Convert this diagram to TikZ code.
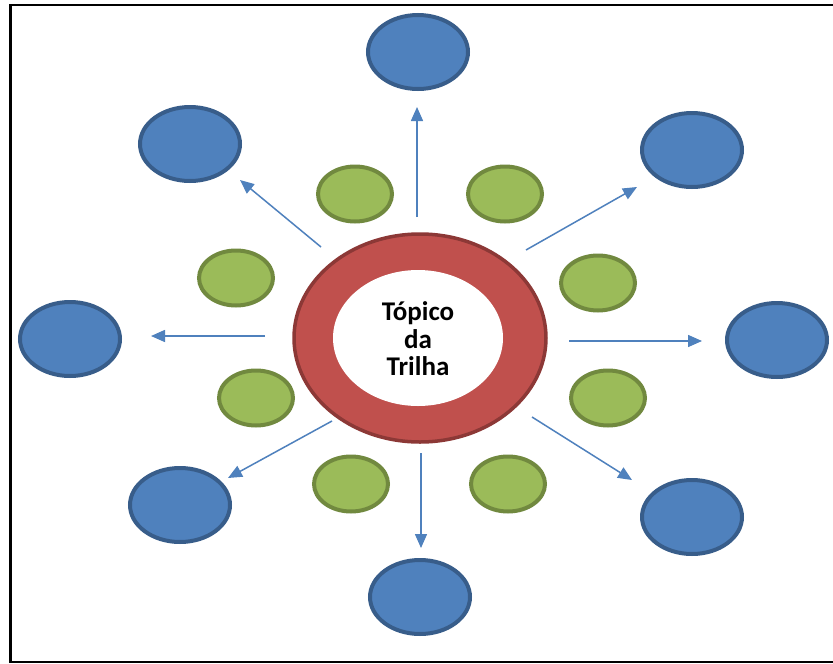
\documentclass[tikz,border=0pt]{standalone}
\usepackage{fontspec}
\setmainfont{Carlito}
\usetikzlibrary{arrows.meta,shapes.geometric}
\definecolor{bluefill}{HTML}{4F81BD}
\definecolor{blueedge}{HTML}{385D8A}
\definecolor{greenfill}{HTML}{9BBB59}
\definecolor{greenedge}{HTML}{71893F}
\definecolor{redfill}{HTML}{C0504D}
\definecolor{rededge}{HTML}{8C3836}
\tikzset{
  outer/.style={ellipse, draw=blueedge, fill=bluefill, line width=4pt,
    minimum width=100pt, minimum height=74pt, inner sep=0pt},
  inner/.style={ellipse, draw=greenedge, fill=greenfill, line width=4pt,
    minimum width=74pt, minimum height=55pt, inner sep=0pt},
  link/.style={draw=bluefill, line width=1.5pt,
    -{Triangle[length=14pt,width=12pt]}},
}
\begin{document}
\begin{tikzpicture}[x=1pt,y=-1pt]
\useasboundingbox (0,0) rectangle (833,664);
\fill[white] (0,0) rectangle (833,664);
% frame
\draw[line width=2.5pt] (833,5) -- (10.5,5) -- (10.5,662) -- (833,662);

% central ring
\node[ellipse, draw=rededge, fill=redfill, line width=3.5pt,
  minimum width=252pt, minimum height=208pt, inner sep=0pt] (ring) at (420,338) {};
\node[ellipse, fill=white, minimum width=170pt, minimum height=136pt,
  inner sep=0pt] (core) at (418,338) {};
\node[align=center, font=\fontsize{27}{27.5}\selectfont\bfseries] (title) at (418,339)
  {Tópico\\da\\Trilha};

% outer ring of blue ellipses
\node[outer] (n)  at (418,52)  {};
\node[outer] (nw) at (190,144) {};
\node[outer] (ne) at (692,150) {};
\node[outer] (w)  at (70,339)  {};
\node[outer] (e)  at (777,340) {};
\node[outer] (sw) at (180,505) {};
\node[outer] (se) at (692,517) {};
\node[outer] (s)  at (420,597) {};

% inner ring of green ellipses
\node[inner] (g1) at (355,194) {};
\node[inner] (g2) at (505,194) {};
\node[inner] (g3) at (236,278) {};
\node[inner] (g4) at (598,283) {};
\node[inner] (g5) at (256,398) {};
\node[inner] (g6) at (608,398) {};
\node[inner] (g7) at (351,484) {};
\node[inner] (g8) at (508,484) {};

% arrow end points
\coordinate (an0) at (417,217); \coordinate (an1) at (417,107);
\coordinate (anw0) at (321,247); \coordinate (anw1) at (240,180);
\coordinate (ane0) at (526,250); \coordinate (ane1) at (637,187);
\coordinate (aw0) at (265,336); \coordinate (aw1) at (151,336);
\coordinate (ae0) at (569,341); \coordinate (ae1) at (702,341);
\coordinate (asw0) at (332,421); \coordinate (asw1) at (228,478);
\coordinate (ase0) at (532,417); \coordinate (ase1) at (632,480);
\coordinate (as0) at (421,453); \coordinate (as1) at (421,548);

\draw[link] (an0) -- (an1);
\draw[link] (anw0) -- (anw1);
\draw[link] (ane0) -- (ane1);
\draw[link] (aw0) -- (aw1);
\draw[link] (ae0) -- (ae1);
\draw[link] (asw0) -- (asw1);
\draw[link] (ase0) -- (ase1);
\draw[link] (as0) -- (as1);
\end{tikzpicture}
\end{document}
